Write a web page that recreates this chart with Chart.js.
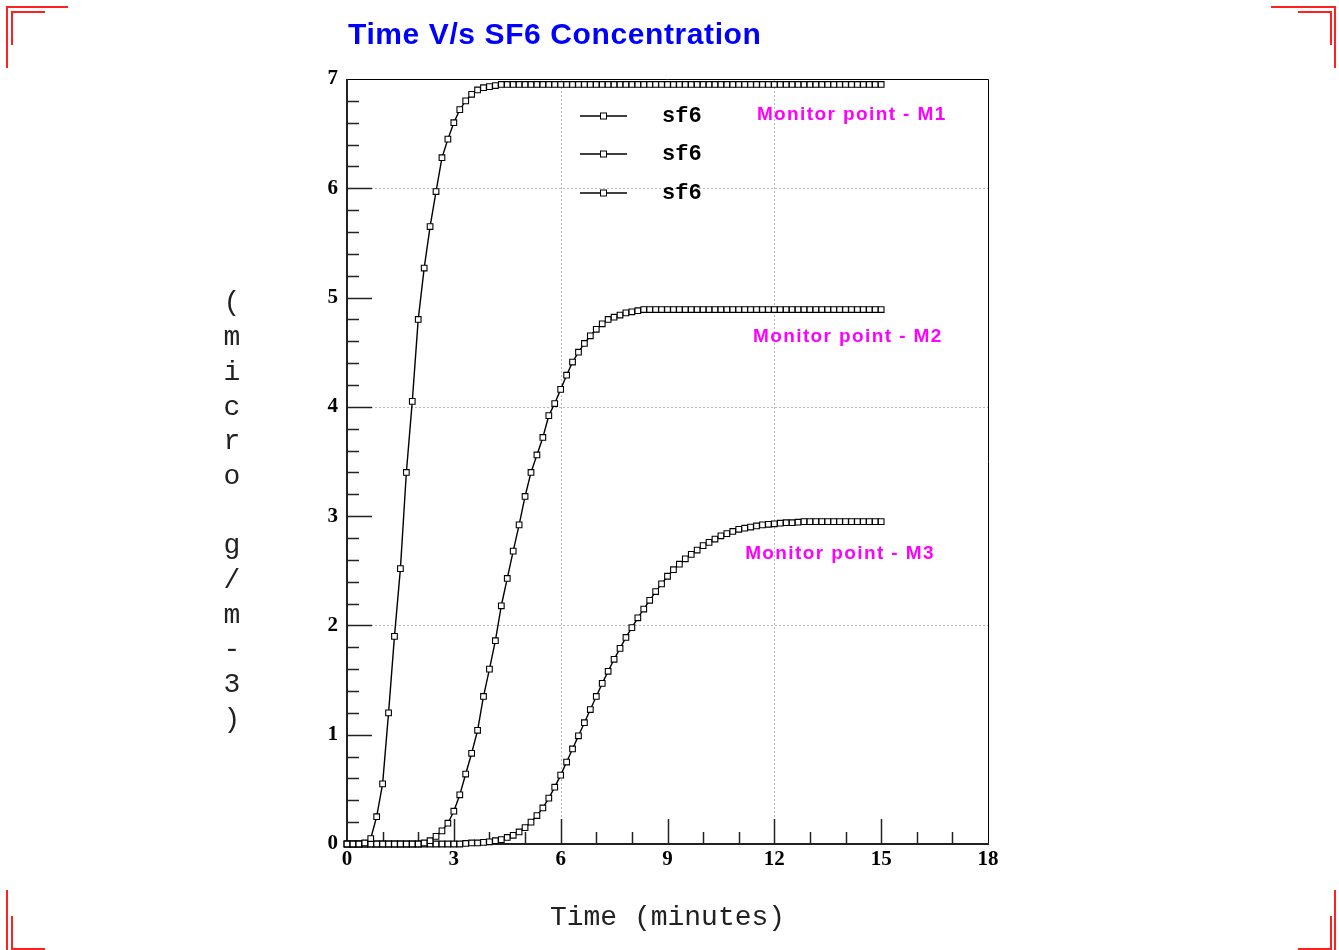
<!DOCTYPE html>
<html><head><meta charset="utf-8">
<script src="https://cdn.jsdelivr.net/npm/chart.js@4.4.0/dist/chart.umd.min.js"></script>
<style>html,body{margin:0;padding:0;background:#fff;overflow:hidden}canvas{display:block}</style>
</head><body>
<canvas id="c" width="1339" height="950"></canvas>
<script>
const TITLE = 'Time V/s SF6 Concentration';
const X_TITLE = 'Time (minutes)';
const Y_TITLE_CHARS = ['(', 'm', 'i', 'c', 'r', 'o', ' ', 'g', '/', 'm', '-', '3', ')'];
const SERIES_LABELS = ['sf6', 'sf6', 'sf6'];
const ANNOTATIONS = ['Monitor point - M1', 'Monitor point - M2', 'Monitor point - M3'];
const ANNOT_X = [11.51, 11.40, 11.18];
const ANNOT_Y = [6.67, 4.64, 2.66];
const X_TICKS = [0, 3, 6, 9, 12, 15, 18];
const Y_TICKS = [0, 1, 2, 3, 4, 5, 6, 7];

// time in minutes (10 s sampling)
const time = [
  0, 0.167, 0.333, 0.5, 0.667, 0.833, 1, 1.167, 1.333, 1.5, 1.667, 1.833,
  2, 2.167, 2.333, 2.5, 2.667, 2.833, 3, 3.167, 3.333, 3.5, 3.667, 3.833,
  4, 4.167, 4.333, 4.5, 4.667, 4.833, 5, 5.167, 5.333, 5.5, 5.667, 5.833,
  6, 6.167, 6.333, 6.5, 6.667, 6.833, 7, 7.167, 7.333, 7.5, 7.667, 7.833,
  8, 8.167, 8.333, 8.5, 8.667, 8.833, 9, 9.167, 9.333, 9.5, 9.667, 9.833,
  10, 10.167, 10.333, 10.5, 10.667, 10.833, 11, 11.167, 11.333, 11.5, 11.667, 11.833,
  12, 12.167, 12.333, 12.5, 12.667, 12.833, 13, 13.167, 13.333, 13.5, 13.667, 13.833,
  14, 14.167, 14.333, 14.5, 14.667, 14.833, 15
];

const m1 = [
  0, 0, 0, 0.01, 0.05, 0.25, 0.55, 1.2, 1.9, 2.52, 3.4, 4.05,
  4.8, 5.27, 5.65, 5.97, 6.28, 6.45, 6.6, 6.72, 6.8, 6.86, 6.9, 6.92,
  6.93, 6.94, 6.95, 6.95, 6.95, 6.95, 6.95, 6.95, 6.95, 6.95, 6.95, 6.95,
  6.95, 6.95, 6.95, 6.95, 6.95, 6.95, 6.95, 6.95, 6.95, 6.95, 6.95, 6.95,
  6.95, 6.95, 6.95, 6.95, 6.95, 6.95, 6.95, 6.95, 6.95, 6.95, 6.95, 6.95,
  6.95, 6.95, 6.95, 6.95, 6.95, 6.95, 6.95, 6.95, 6.95, 6.95, 6.95, 6.95,
  6.95, 6.95, 6.95, 6.95, 6.95, 6.95, 6.95, 6.95, 6.95, 6.95, 6.95, 6.95,
  6.95, 6.95, 6.95, 6.95, 6.95, 6.95, 6.95
];

const m2 = [
  0, 0, 0, 0, 0, 0, 0, 0, 0, 0, 0, 0,
  0, 0.01, 0.03, 0.07, 0.12, 0.19, 0.30, 0.45, 0.64, 0.83, 1.04, 1.35,
  1.6, 1.86, 2.18, 2.43, 2.68, 2.92, 3.18, 3.4, 3.56, 3.72, 3.92, 4.03,
  4.16, 4.29, 4.41, 4.5, 4.58, 4.65, 4.71, 4.76, 4.8, 4.82, 4.84, 4.86,
  4.87, 4.88, 4.89, 4.89, 4.89, 4.89, 4.89, 4.89, 4.89, 4.89, 4.89, 4.89,
  4.89, 4.89, 4.89, 4.89, 4.89, 4.89, 4.89, 4.89, 4.89, 4.89, 4.89, 4.89,
  4.89, 4.89, 4.89, 4.89, 4.89, 4.89, 4.89, 4.89, 4.89, 4.89, 4.89, 4.89,
  4.89, 4.89, 4.89, 4.89, 4.89, 4.89, 4.89
];

const m3 = [
  0, 0, 0, 0, 0, 0, 0, 0, 0, 0, 0, 0,
  0, 0, 0, 0, 0, 0, 0, 0, 0.005, 0.01, 0.01, 0.015,
  0.02, 0.03, 0.04, 0.06, 0.08, 0.11, 0.15, 0.2, 0.26, 0.33, 0.42, 0.52,
  0.63, 0.75, 0.87, 0.99, 1.11, 1.23, 1.35, 1.47, 1.58, 1.69, 1.79, 1.89,
  1.98, 2.07, 2.15, 2.23, 2.31, 2.38, 2.45, 2.51, 2.56, 2.61, 2.65, 2.69,
  2.73, 2.76, 2.79, 2.82, 2.84, 2.86, 2.88, 2.89, 2.9, 2.91, 2.92, 2.925,
  2.93, 2.935, 2.94, 2.94, 2.945, 2.95, 2.95, 2.95, 2.95, 2.95, 2.95, 2.95,
  2.95, 2.95, 2.95, 2.95, 2.95, 2.95, 2.95
];

const seriesValues = [m1, m2, m3];

function mkDataset(label, vals) {
  return {
    label,
    data: time.map((t, i) => ({ x: t, y: vals[i] })),
    borderColor: '#000',
    borderWidth: 1.4,
    pointStyle: 'rect',
    pointRadius: 4,
    pointBackgroundColor: '#fff',
    pointBorderColor: '#000',
    pointBorderWidth: 1.1,
    tension: 0,
    fill: false,
    clip: false
  };
}

const deco = {
  id: 'deco',
  beforeDraw(chart) {
    const c = chart.ctx;
    c.save();
    c.fillStyle = '#fff';
    c.fillRect(0, 0, chart.width, chart.height);
    c.restore();
  },
  beforeDatasetsDraw(chart) {
    const c = chart.ctx, xs = chart.scales.x, ys = chart.scales.y, a = chart.chartArea;
    c.save();
    c.strokeStyle = '#b8b8b8';
    c.lineWidth = 1;
    c.setLineDash([2, 2]);
    [6, 12].forEach(v => {
      const px = Math.round(xs.getPixelForValue(v)) + 0.5;
      c.beginPath(); c.moveTo(px, a.top); c.lineTo(px, a.bottom); c.stroke();
    });
    [2, 4, 6].forEach(v => {
      const py = Math.round(ys.getPixelForValue(v)) + 0.5;
      c.beginPath(); c.moveTo(a.left, py); c.lineTo(a.right, py); c.stroke();
    });
    c.setLineDash([]);
    c.strokeStyle = '#000';
    c.lineWidth = 1;
    c.beginPath();
    c.moveTo(a.left, a.top + 0.5); c.lineTo(a.right + 0.5, a.top + 0.5); c.lineTo(a.right + 0.5, a.bottom);
    c.stroke();
    c.strokeStyle = '#222';
    c.lineWidth = 2;
    c.beginPath();
    c.moveTo(a.left, a.top); c.lineTo(a.left, a.bottom); c.lineTo(a.right + 1, a.bottom);
    c.stroke();
    c.lineWidth = 1.5;
    for (let v = 1; v < 18; v++) {
      const px = Math.round(xs.getPixelForValue(v)) + 0.5;
      const len = v % 3 === 0 ? 25 : 12;
      c.beginPath(); c.moveTo(px, a.bottom); c.lineTo(px, a.bottom - len); c.stroke();
    }
    for (let k = 1; k < 35; k++) {
      const py = Math.round(ys.getPixelForValue(k / 5)) + 0.5;
      const len = k % 5 === 0 ? 25 : 12;
      c.beginPath(); c.moveTo(a.left, py); c.lineTo(a.left + len, py); c.stroke();
    }
    c.restore();
  },
  afterDraw(chart) {
    const c = chart.ctx, xs = chart.scales.x, ys = chart.scales.y;
    c.save();
    c.fillStyle = '#0000ff';
    c.font = 'bold 30px "Liberation Sans", Arial, sans-serif';
    c.letterSpacing = '0.6px';
    c.textBaseline = 'alphabetic';
    c.textAlign = 'left';
    c.fillText(TITLE, 348, 44);
    c.letterSpacing = '0px';
    c.fillStyle = '#222';
    c.font = '28px "Liberation Mono", monospace';
    c.textAlign = 'center';
    c.textBaseline = 'middle';
    Y_TITLE_CHARS.forEach((ch, k) => c.fillText(ch, 232, 303 + k * 34.7));
    c.fillStyle = '#ff00ff';
    c.font = 'bold 19px "Liberation Sans", Arial, sans-serif';
    c.letterSpacing = '1.4px';
    c.textAlign = 'left';
    ANNOTATIONS.forEach((t, i) => c.fillText(t, xs.getPixelForValue(ANNOT_X[i]), ys.getPixelForValue(ANNOT_Y[i])));
    c.letterSpacing = '0px';
    const legY = [116, 154, 193];
    chart.data.datasets.forEach((ds, i) => {
      const y = legY[i];
      c.strokeStyle = ds.borderColor; c.lineWidth = ds.borderWidth;
      c.beginPath(); c.moveTo(580, y); c.lineTo(627, y); c.stroke();
      c.fillStyle = '#fff'; c.strokeStyle = '#000'; c.lineWidth = 1;
      c.fillRect(600.5, y - 3, 6, 6); c.strokeRect(600.5, y - 3, 6, 6);
      c.fillStyle = '#000';
      c.font = 'bold 22px "Liberation Mono", monospace';
      c.textAlign = 'left'; c.textBaseline = 'middle';
      c.fillText(ds.label, 662, y);
    });
    c.strokeStyle = '#ff2020';
    c.lineWidth = 2;
    const W = chart.width, H = chart.height;
    const L = (pts) => { c.beginPath(); c.moveTo(pts[0], pts[1]); for (let j = 2; j < pts.length; j += 2) c.lineTo(pts[j], pts[j + 1]); c.stroke(); };
    L([7, 68, 7, 7, 68, 7]);
    L([12, 45, 12, 12, 45, 12]);
    L([W - 68, 7, W - 4, 7, W - 4, 68]);
    L([W - 41, 12, W - 8, 12, W - 8, 45]);
    L([7, H - 60, 7, H]);
    L([12, H - 34, 12, H - 1, 45, H - 1]);
    L([W - 4, H - 60, W - 4, H]);
    L([W - 8, H - 34, W - 8, H - 1, W - 41, H - 1]);
    c.restore();
  }
};

new Chart(document.getElementById('c').getContext('2d'), {
  type: 'line',
  data: { datasets: seriesValues.map((v, i) => mkDataset(SERIES_LABELS[i], v)) },
  options: {
    responsive: false,
    animation: false,
    devicePixelRatio: 1,
    layout: { padding: { top: 79, right: 351, left: 0, bottom: 0 } },
    plugins: { legend: { display: false }, title: { display: false }, tooltip: { enabled: false } },
    scales: {
      x: {
        type: 'linear', min: 0, max: 18,
        afterBuildTicks: s => { s.ticks = X_TICKS.map(v => ({ value: v })); },
        grid: { display: false, drawTicks: false },
        border: { display: false },
        ticks: { font: { family: 'Liberation Serif', weight: 'bold', size: 21 }, color: '#000', padding: 3, maxRotation: 0, autoSkip: false },
        title: { display: true, text: X_TITLE, font: { family: 'Liberation Mono', size: 28 }, color: '#222', padding: { top: 0, bottom: 16 } },
        afterFit: s => { s.height = 106; }
      },
      y: {
        type: 'linear', min: 0, max: 7,
        afterBuildTicks: s => { s.ticks = Y_TICKS.map(v => ({ value: v })); },
        grid: { display: false, drawTicks: false },
        border: { display: false },
        ticks: { font: { family: 'Liberation Serif', weight: 'bold', size: 21 }, color: '#000', padding: 9, autoSkip: false },
        afterFit: s => { s.width = 347; }
      }
    }
  },
  plugins: [deco]
});
</script>
</body></html>
